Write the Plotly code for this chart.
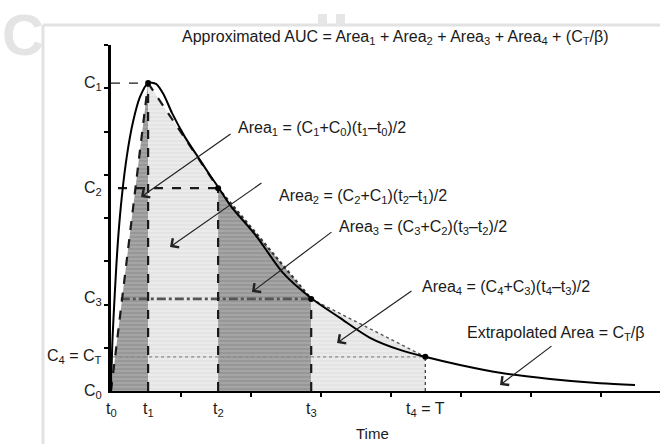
import plotly.graph_objects as go

# Sampled concentrations at the observation times
t_obs = [0.0, 0.53, 1.53, 2.86, 4.49]
c_obs = [0.0, 7.12, 4.69, 2.13, 0.79]

# Concentration-time profile (smooth curve through read points)
curve_t = [0.0, 0.021, 0.057, 0.10, 0.157, 0.229, 0.314, 0.414, 0.529, 0.643,
           0.757, 0.871, 1.057, 1.243, 1.414, 1.529, 1.70, 2.086, 2.457, 2.857,
           3.271, 3.70, 4.129, 4.486, 4.986, 5.557, 6.271, 6.986, 7.486]
curve_c = [0.0, 1.18, 2.34, 3.49, 4.53, 5.46, 6.22, 6.80, 7.12, 7.10,
           6.84, 6.43, 5.87, 5.41, 4.99, 4.72, 4.30, 3.56, 2.73, 2.15,
           1.69, 1.23, 0.95, 0.79, 0.60, 0.42, 0.28, 0.18, 0.14]

y_labels = ["C<sub>0</sub>", "C<sub>1</sub>", "C<sub>2</sub>", "C<sub>3</sub>",
            "C<sub>4</sub> = C<sub>T</sub>"]
x_labels = ["t<sub>0</sub>", "t<sub>1</sub>", "t<sub>2</sub>", "t<sub>3</sub>",
            "t<sub>4</sub> = T"]

FONT = "Liberation Sans, Arial, sans-serif"
INK = "#1a1a1a"
FS = 16

fig = go.Figure()

# Trapezoid areas
dark = dict(shape="-", bgcolor="#979797", fgcolor="#c0c0c0", size=4, solidity=0.35)
light = dict(shape="-", bgcolor="#e4e4e4", fgcolor="#f6f6f6", size=4, solidity=0.4)
for i in range(4):
    xs = [t_obs[i], t_obs[i], t_obs[i + 1], t_obs[i + 1], t_obs[i]]
    ys = [0, c_obs[i], c_obs[i + 1], 0, 0]
    fig.add_trace(go.Scatter(
        x=xs, y=ys, mode="lines", fill="toself",
        fillcolor="rgba(0,0,0,0)",
        fillpattern=dark if i % 2 == 0 else light,
        line=dict(width=0), hoverinfo="skip", showlegend=False))

# Horizontal reference lines at C1..C4
h_start = [0.0, 0.10, 0.14, 0.03]
h_style = [
    dict(color=INK, width=1.2, dash="dash"),
    dict(color=INK, width=2.2, dash="dash"),
    dict(color="#555555", width=2.6, dash="dashdot"),
    dict(color="#8a8a8a", width=1.4, dash="dot"),
]
for k in range(4):
    fig.add_trace(go.Scatter(
        x=[h_start[k], t_obs[k + 1]], y=[c_obs[k + 1], c_obs[k + 1]],
        mode="lines", line=h_style[k], hoverinfo="skip", showlegend=False))

# Vertical lines at t1..t4
v_style = [
    dict(color=INK, width=2.2, dash="dash"),
    dict(color=INK, width=2.2, dash="dash"),
    dict(color=INK, width=2.2, dash="dash"),
    dict(color="#333333", width=1.2, dash="dot"),
]
for k in range(4):
    fig.add_trace(go.Scatter(
        x=[t_obs[k + 1], t_obs[k + 1]], y=[0, c_obs[k + 1]],
        mode="lines", line=v_style[k], hoverinfo="skip", showlegend=False))

# Chords (tops of the trapezoids)
chord_style = [
    dict(color=INK, width=2.2, dash="dash"),
    dict(color=INK, width=2.2, dash="dash"),
    dict(color="#333333", width=2.2, dash="dot"),
    dict(color="#555555", width=1.4, dash="dot"),
]
for i in range(4):
    fig.add_trace(go.Scatter(
        x=[t_obs[i], t_obs[i + 1]], y=[c_obs[i], c_obs[i + 1]],
        mode="lines", line=chord_style[i], hoverinfo="skip", showlegend=False))

# Concentration curve
fig.add_trace(go.Scatter(
    x=curve_t, y=curve_c, mode="lines",
    line=dict(color="#000000", width=2, shape="spline", smoothing=0.8),
    hoverinfo="skip", showlegend=False))

# Observed points
fig.add_trace(go.Scatter(
    x=t_obs[1:], y=c_obs[1:], mode="markers",
    marker=dict(color="#000000", size=6),
    hoverinfo="skip", showlegend=False))

annotations = []

# Axis labels for sampled values
for lab, c in zip(y_labels, c_obs):
    annotations.append(dict(
        x=0, y=c, xref="x", yref="y", text=lab, showarrow=False,
        xanchor="right", yanchor="middle", xshift=-7,
        font=dict(family=FONT, size=FS, color=INK)))
for lab, t in zip(x_labels, t_obs):
    annotations.append(dict(
        x=t, y=0, xref="x", yref="paper", text=lab, showarrow=False,
        xanchor="center", yanchor="top", yshift=-7,
        font=dict(family=FONT, size=FS, color=INK)))
annotations.append(dict(
    x=3.73, y=0, xref="x", yref="paper", text="Time", showarrow=False,
    xanchor="center", yanchor="bottom", yshift=-53,
    font=dict(family=FONT, size=15, color=INK)))

# Title formula
annotations.append(dict(
    x=0.1257, y=1, xref="paper", yref="paper",
    text="Approximated AUC = Area<sub>1</sub> + Area<sub>2</sub> + Area<sub>3</sub>"
         " + Area<sub>4</sub> + (C<sub>T</sub>/β)",
    showarrow=False, xanchor="left", yanchor="middle", yshift=8,
    font=dict(family=FONT, size=FS, color=INK)))

# Area formulas
formulas = [
    ("Area<sub>1</sub> = (C<sub>1</sub>+C<sub>0</sub>)(t<sub>1</sub>–t<sub>0</sub>)/2", 1.786, 6.08),
    ("Area<sub>2</sub> = (C<sub>2</sub>+C<sub>1</sub>)(t<sub>2</sub>–t<sub>1</sub>)/2", 2.371, 4.49),
    ("Area<sub>3</sub> = (C<sub>3</sub>+C<sub>2</sub>)(t<sub>3</sub>–t<sub>2</sub>)/2", 3.229, 3.79),
    ("Area<sub>4</sub> = (C<sub>4</sub>+C<sub>3</sub>)(t<sub>4</sub>–t<sub>3</sub>)/2", 4.414, 2.40),
    ("Extrapolated Area = C<sub>T</sub>/β", 5.057, 1.34),
]
for txt, x, y in formulas:
    annotations.append(dict(
        x=x, y=y, xref="x", yref="y", text=txt, showarrow=False,
        xanchor="left", yanchor="middle",
        font=dict(family=FONT, size=FS, color=INK)))

# Pointer arrows (head, tail)
arrows = [
    ((0.429, 4.486), (1.729, 5.965)),
    ((0.843, 3.33), (2.171, 4.832)),
    ((2.014, 2.29), (3.171, 3.70)),
    ((3.229, 1.11), (4.314, 2.335)),
    ((5.557, 0.139), (6.314, 1.064)),
]
for (hx, hy), (tx, ty) in arrows:
    annotations.append(dict(
        x=hx, y=hy, ax=tx, ay=ty, xref="x", yref="y", axref="x", ayref="y",
        text="", showarrow=True, arrowhead=4, arrowsize=1.8, arrowwidth=1.2,
        arrowcolor="#222222"))

# Faint header remnant
annotations.append(dict(
    x=-0.161, y=1.03, xref="paper", yref="paper", text="<b>C</b>",
    showarrow=False, xanchor="center", yanchor="middle",
    font=dict(family=FONT, size=58, color="#e4e4e4")))

shapes = [
    dict(type="line", xref="paper", yref="paper", x0=-0.1239, x1=1.0,
         y0=1.0578, y1=1.0578, line=dict(color="#e2e2e2", width=3), layer="below"),
    dict(type="line", xref="paper", yref="paper", x0=-0.1239, x1=-0.1239,
         y0=1.0578, y1=-0.16, line=dict(color="#e2e2e2", width=3), layer="below"),
    dict(type="rect", xref="paper", yref="paper", x0=0.377, x1=0.3934,
         y0=1.0578, y1=1.0896, fillcolor="#e6e6e6", line=dict(width=0)),
    dict(type="rect", xref="paper", yref="paper", x0=0.4098, x1=0.4262,
         y0=1.0578, y1=1.0896, fillcolor="#e6e6e6", line=dict(width=0)),
]

fig.update_layout(
    width=660, height=444,
    margin=dict(l=111, r=0, t=45, b=53),
    paper_bgcolor="white", plot_bgcolor="white",
    showlegend=False,
    annotations=annotations, shapes=shapes,
    xaxis=dict(range=[0, 549 / 70], showgrid=False, zeroline=False,
               showline=True, linecolor="#000000", linewidth=2,
               ticks="outside", ticklen=4, tickwidth=2, tickcolor="#000000",
               tickvals=[1, 2, 3, 4, 5, 6, 7], showticklabels=False,
               fixedrange=True),
    yaxis=dict(range=[0, 8.0], showgrid=False, zeroline=False,
               showline=True, linecolor="#000000", linewidth=3,
               ticks="outside", ticklen=4, tickwidth=2, tickcolor="#000000",
               tickvals=[1, 2, 3, 4, 5, 6, 7, 8], showticklabels=False,
               fixedrange=True),
)

fig.write_html("out.html")
